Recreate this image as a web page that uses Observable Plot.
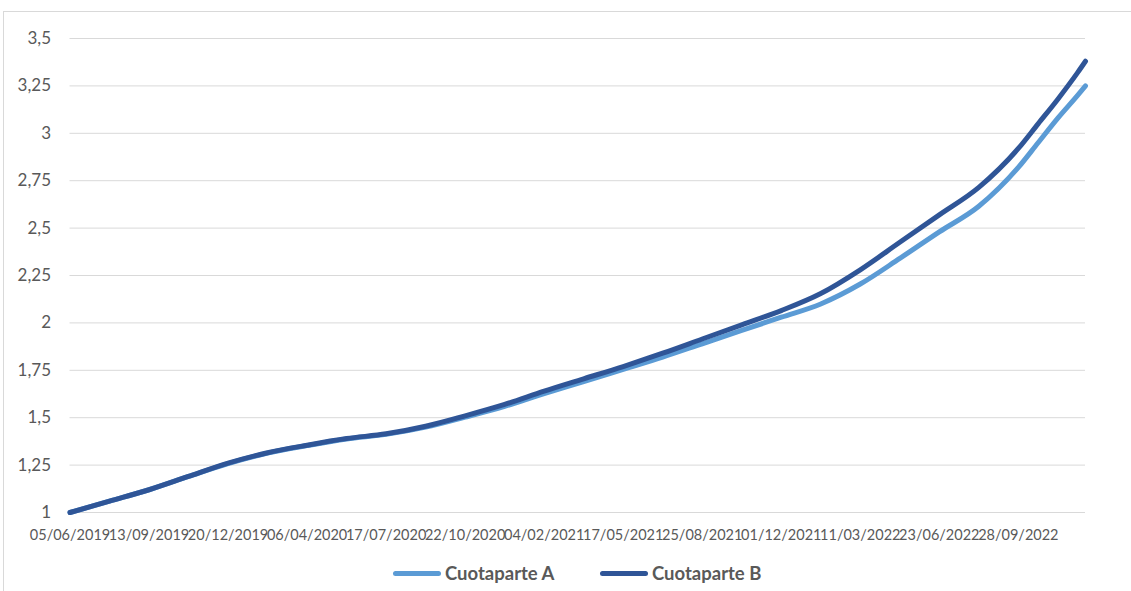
<!DOCTYPE html>
<html>
<head>
<meta charset="utf-8">
<script src="https://cdn.jsdelivr.net/npm/d3@7"></script>
<script src="https://cdn.jsdelivr.net/npm/@observablehq/plot@0.6"></script>
<style>
  html, body { margin: 0; padding: 0; background: #fff; }
  body { width: 1131px; height: 591px; overflow: hidden; position: relative; font-family: Lato, "Open Sans", sans-serif; }
  #frame { position: absolute; left: 3px; top: 11px; width: 1200px; height: 700px; border: 1px solid #d9d9d9; pointer-events: none; }
  #chart { position: absolute; left: 0; top: 0; }
  #legend { position: absolute; left: 0; top: 561px; width: 1131px; height: 24px;
            font-family: Lato, sans-serif; font-weight: bold; font-size: 18.5px; color: #595959; }
  .item { position: absolute; top: 0; height: 24px; display: flex; align-items: center; white-space: nowrap; }
  .sw { display: inline-block; width: 48px; height: 5px; border-radius: 3px; margin-right: 4px; }
</style>
</head>
<body>
<div id="frame"></div>
<div id="chart"></div>
<div id="legend"></div>
<script>
// Category tick labels (every labelled category of the Excel axis)
const tickLabels = ["05/06/2019","13/09/2019","20/12/2019","06/04/2020","17/07/2020","22/10/2020",
  "04/02/2021","17/05/2021","25/08/2021","01/12/2021","11/03/2022","23/06/2022","28/09/2022"];
// Sample positions, in units of label intervals along the category axis
const samplePos = [0,0.5,1,1.5,2,2.5,3,3.5,4,4.5,5,5.5,6,6.5,7,7.5,8,8.5,9,9.5,10,10.5,11,11.5,12,12.25,12.5,12.75,12.85];
const cuotaA = [1.00,1.06,1.12,1.19,1.258,1.313,1.353,1.388,1.412,1.45,1.503,1.56,1.627,1.69,1.755,1.82,1.89,1.96,2.03,2.10,2.205,2.34,2.48,2.615,2.82,2.95,3.08,3.20,3.25];
const cuotaB = [1.00,1.06,1.12,1.19,1.26,1.315,1.355,1.39,1.415,1.455,1.51,1.57,1.64,1.705,1.77,1.84,1.915,1.99,2.065,2.155,2.28,2.425,2.57,2.715,2.92,3.05,3.18,3.32,3.38];
const yTicks = [1,1.25,1.5,1.75,2,2.25,2.5,2.75,3,3.25,3.5];

const seriesNames = ["Cuotaparte A","Cuotaparte B"];
const colors = ["#5B9BD5","#2F5597"];
const legendLeft = [393, 600];

const rows = [];
samplePos.forEach((p,i) => rows.push({pos:p, value:cuotaA[i], series:seriesNames[0]}));
samplePos.forEach((p,i) => rows.push({pos:p, value:cuotaB[i], series:seriesNames[1]}));

const comma = d => String(d).replace(".", ",");

const chart = Plot.plot({
  width: 1131,
  height: 552,
  marginLeft: 69.5,
  marginRight: 46,
  marginTop: 38,
  marginBottom: 40,
  style: {fontFamily: "Lato, 'Open Sans', sans-serif", fontSize: "14px", color: "#595959", background: "transparent"},
  x: {type: "linear", domain: [samplePos[0], samplePos[samplePos.length-1]]},
  y: {domain: [1, 3.5]},
  color: {domain: seriesNames, range: colors},
  marks: [
    Plot.gridY(yTicks.slice(1), {stroke: "#d9d9d9", strokeOpacity: 1, strokeWidth: 1}),
    Plot.ruleY([1], {stroke: "#d9d9d9", strokeWidth: 1}),
    Plot.axisY({ticks: yTicks, tickFormat: comma, tickSize: 0, tickPadding: 19, label: null, fontSize: 17}),
    Plot.axisX({ticks: tickLabels.map((_, i) => i), tickFormat: i => tickLabels[i], tickSize: 0, tickPadding: 17, label: null, fontSize: 14.5}),
    Plot.line(rows, {x: "pos", y: "value", z: "series", stroke: "series", strokeWidth: 5, curve: "monotone-x", strokeLinecap: "round", strokeLinejoin: "round"})
  ]
});
document.getElementById("chart").appendChild(chart);

const legend = document.getElementById("legend");
seriesNames.forEach((name, i) => {
  const it = document.createElement("div");
  it.className = "item";
  it.style.left = legendLeft[i] + "px";
  const sw = document.createElement("span");
  sw.className = "sw";
  sw.style.background = colors[i];
  const tx = document.createElement("span");
  tx.textContent = name;
  it.appendChild(sw); it.appendChild(tx);
  legend.appendChild(it);
});
</script>
</body>
</html>
